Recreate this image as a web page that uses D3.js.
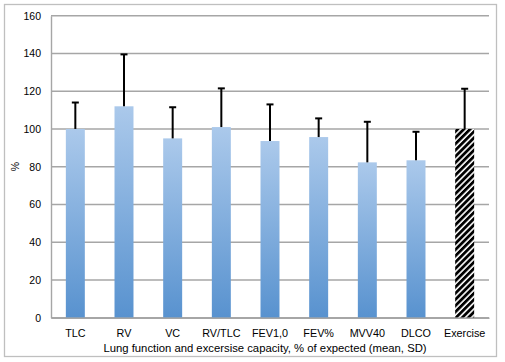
<!DOCTYPE html>
<html>
<head>
<meta charset="utf-8">
<script src="https://cdn.jsdelivr.net/npm/d3@7"></script>
<style>
  body { margin: 0; background: #fff; }
  svg { display: block; font-family: "Liberation Sans", Arial, sans-serif; }
</style>
</head>
<body>
<svg id="chart" width="505" height="362"></svg>
<script>
const categories = [`TLC`, `RV`, `VC`, `RV/TLC`, `FEV1,0`, `FEV%`, `MVV40`, `DLCO`, `Exercise`];
const means = [100, 112, 95, 101, 93.6, 95.7, 82.3, 83.4, 100];
const upperSD = [114, 139.5, 111.5, 121.5, 113, 105.6, 103.8, 98.5, 121.3];
const yTicks = [0, 20, 40, 60, 80, 100, 120, 140, 160];

const width = 505;
const height = 362;
const margin = { top: 15.7, right: 16, bottom: 44.3, left: 51 };

const svg = d3.select(`#chart`);

// outer frame
svg.append(`rect`)
    .attr(`x`, 4.5)
    .attr(`y`, 4.5)
    .attr(`width`, 492)
    .attr(`height`, 352)
    .attr(`fill`, `#fff`)
    .attr(`stroke`, `#bfbfbf`)
    .attr(`stroke-width`, 1.3);

const defs = svg.append(`defs`);

const grad = defs.append(`linearGradient`)
    .attr(`id`, `barGrad`)
    .attr(`x1`, 0).attr(`y1`, 0)
    .attr(`x2`, 0).attr(`y2`, 1);
grad.append(`stop`).attr(`offset`, `0%`).attr(`stop-color`, `#abc9eb`);
grad.append(`stop`).attr(`offset`, `100%`).attr(`stop-color`, `#5892cf`);

const hatch = defs.append(`pattern`)
    .attr(`id`, `hatch`)
    .attr(`patternUnits`, `userSpaceOnUse`)
    .attr(`width`, 4.4)
    .attr(`height`, 4.4)
    .attr(`patternTransform`, `rotate(45)`);
hatch.append(`rect`).attr(`width`, 4.4).attr(`height`, 4.4).attr(`fill`, `#fff`);
hatch.append(`rect`).attr(`width`, 2.8).attr(`height`, 4.4).attr(`fill`, `#000`);

const x = d3.scaleBand()
    .domain(categories)
    .range([margin.left, width - margin.right])
    .paddingInner(0.61)
    .paddingOuter(0.305);

const y = d3.scaleLinear()
    .domain([0, 160])
    .range([height - margin.bottom, margin.top]);

// gridlines
svg.append(`g`)
    .selectAll(`line`)
    .data(yTicks)
    .join(`line`)
    .attr(`x1`, margin.left)
    .attr(`x2`, width - margin.right)
    .attr(`y1`, d => y(d))
    .attr(`y2`, d => y(d))
    .attr(`stroke`, `#a6a6a6`)
    .attr(`stroke-width`, 1.4);

// y axis
const yAxis = svg.append(`g`)
    .attr(`transform`, `translate(${margin.left},0)`)
    .call(d3.axisLeft(y).tickValues(yTicks).tickSize(0).tickPadding(10));
yAxis.select(`.domain`).attr(`stroke`, `#a6a6a6`).attr(`stroke-width`, 1.4);
yAxis.selectAll(`text`).attr(`font-size`, 10.5).attr(`fill`, `#000`).attr(`font-family`, `"Liberation Sans", Arial, sans-serif`);

// bars
svg.append(`g`)
    .selectAll(`rect`)
    .data(categories)
    .join(`rect`)
    .attr(`x`, d => x(d))
    .attr(`y`, (d, i) => y(means[i]))
    .attr(`width`, x.bandwidth())
    .attr(`height`, (d, i) => y(0) - y(means[i]))
    .attr(`fill`, d => d === `Exercise` ? `url(#hatch)` : `url(#barGrad)`);

// error bars (upper only)
const err = svg.append(`g`)
    .selectAll(`g`)
    .data(categories)
    .join(`g`);
err.append(`line`)
    .attr(`x1`, d => x(d) + x.bandwidth() / 2)
    .attr(`x2`, d => x(d) + x.bandwidth() / 2)
    .attr(`y1`, (d, i) => y(means[i]))
    .attr(`y2`, (d, i) => y(upperSD[i]))
    .attr(`stroke`, `#000`)
    .attr(`stroke-width`, 2);
err.append(`line`)
    .attr(`x1`, d => x(d) + x.bandwidth() / 2 - 3.5)
    .attr(`x2`, d => x(d) + x.bandwidth() / 2 + 3.5)
    .attr(`y1`, (d, i) => y(upperSD[i]))
    .attr(`y2`, (d, i) => y(upperSD[i]))
    .attr(`stroke`, `#000`)
    .attr(`stroke-width`, 2);

// x axis
const xAxis = svg.append(`g`)
    .attr(`transform`, `translate(0,${y(0)})`)
    .call(d3.axisBottom(x).tickSize(0).tickPadding(12).tickSizeOuter(0));
xAxis.select(`.domain`).attr(`stroke`, `#a6a6a6`).attr(`stroke-width`, 1.4);
xAxis.selectAll(`text`).attr(`font-size`, 10.8).attr(`fill`, `#000`).attr(`font-family`, `"Liberation Sans", Arial, sans-serif`);

// axis titles
svg.append(`text`)
    .attr(`x`, (margin.left + width - margin.right) / 2 - 5)
    .attr(`y`, 352)
    .attr(`text-anchor`, `middle`)
    .attr(`font-size`, 11.3)
    .text(`Lung function and excersise capacity, % of expected (mean, SD)`);

svg.append(`text`)
    .attr(`transform`, `translate(19,${(margin.top + y(0)) / 2}) rotate(-90)`)
    .attr(`text-anchor`, `middle`)
    .attr(`font-size`, 10.5)
    .text(`%`);
</script>
</body>
</html>
